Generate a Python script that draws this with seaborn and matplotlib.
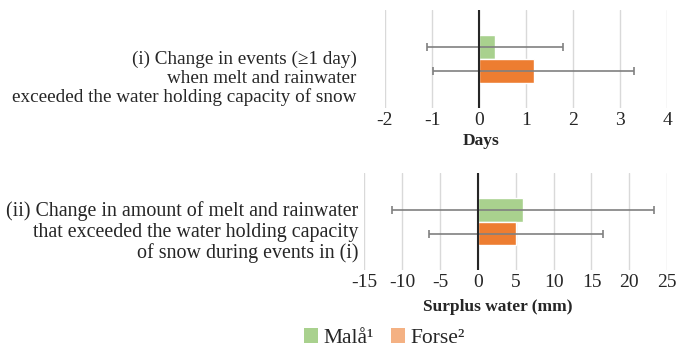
import matplotlib
matplotlib.use('Agg')
import matplotlib.pyplot as plt
import seaborn as sns
import pandas as pd
from matplotlib.patches import Patch

# ── data ──────────────────────────────────────────────────────────────
sites = ['Malå¹', 'Forse²']
events_days = [0.34, 1.16]
events_err = [1.45, 2.13]
surplus_mm = [6.0, 5.0]
surplus_err = [17.3, 11.5]

label_i = '(i) Change in events (≥1 day)\nwhen melt and rainwater\nexceeded the water holding capacity of snow'
label_ii = ('(ii) Change in amount of melt and rainwater\nthat exceeded the water holding capacity\n'
            'of snow during events in (i)')
days_ticks = [-2, -1, 0, 1, 2, 3, 4]
mm_ticks = [-15, -10, -5, 0, 5, 10, 15, 20, 25]

bar_colors = ['#A9D18E', '#ED7D31']
legend_colors = ['#A9D18E', '#F4B183']

sns.set_style('white')
plt.rcParams['font.family'] = ['Liberation Serif', 'DejaVu Serif']

fig = plt.figure(figsize=(6.85, 3.55), dpi=100)
ax1 = fig.add_axes([0.562, 0.696, 0.412, 0.276])
ax2 = fig.add_axes([0.532, 0.239, 0.442, 0.273])


def draw(ax, values, errs, ticks, xlabel, text, text_pos, text_size, label_pos):
    df = pd.DataFrame({'cat': ['c'] * len(sites), 'site': sites, 'val': values})
    sns.barplot(data=df, x='val', y='cat', hue='site', palette=bar_colors,
                orient='h', width=0.49, errorbar=None, legend=False,
                saturation=1, ax=ax)
    for patch, v, e in zip(ax.patches, values, errs):
        yc = patch.get_y() + patch.get_height() / 2
        ax.errorbar(v, yc, xerr=e, fmt='none', ecolor='#808080',
                    elinewidth=1.2, capsize=3, capthick=1.2, zorder=4)
    ax.set_xlim(ticks[0], ticks[-1])
    ax.set_ylim(0.5, -0.5)
    ax.set_xticks(ticks)
    ax.set_xticklabels([str(t) for t in ticks], fontsize=14)
    ax.set_yticks([])
    ax.set_ylabel('')
    ax.set_xlabel(xlabel, fontsize=12.5, fontweight='bold')
    ax.xaxis.set_label_coords(*label_pos)
    ax.tick_params(axis='x', length=0, pad=3)
    ax.grid(axis='x', color='#d9d9d9', linewidth=1)
    ax.set_axisbelow(True)
    ax.axvline(0, color='#262626', linewidth=1.5, zorder=5)
    for s in ax.spines.values():
        s.set_visible(False)
    ax.text(text_pos[0], text_pos[1], text, transform=ax.transAxes,
            ha='right', va='center', fontsize=text_size, linespacing=1.1)


draw(ax1, events_days, events_err, days_ticks, 'Days', label_i,
     (-0.1, 0.30), 13.8, (0.34, -0.26))
draw(ax2, surplus_mm, surplus_err, mm_ticks, 'Surplus water (mm)', label_ii,
     (-0.02, 0.39), 14.4, (0.44, -0.30))

handles = [Patch(facecolor=c, edgecolor='none') for c in legend_colors]
fig.legend(handles, sites, loc='center', bbox_to_anchor=(0.561, 0.047), ncol=2,
           frameon=False, fontsize=15.5, handlelength=0.65, handleheight=0.65,
           handletextpad=0.25, columnspacing=0.8)

fig.savefig('out.png', dpi=100)
